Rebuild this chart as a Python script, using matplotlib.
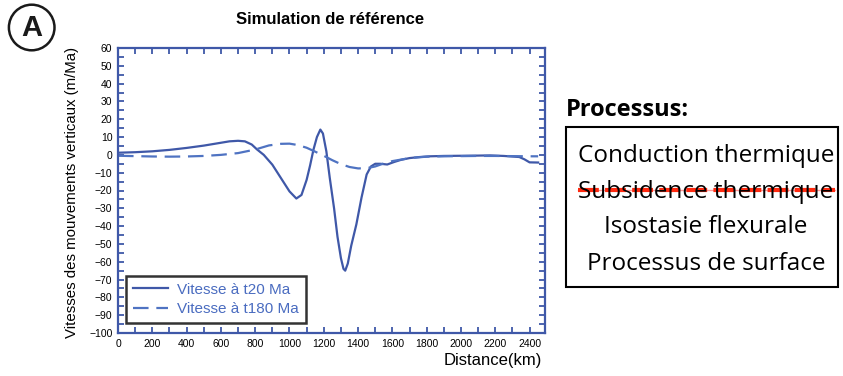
import matplotlib
matplotlib.use('Agg')
import matplotlib.pyplot as plt
from matplotlib.patches import Circle, Rectangle
from matplotlib.lines import Line2D
from matplotlib.ticker import MultipleLocator

plt.rcParams['font.family'] = ['Liberation Sans', 'DejaVu Sans']

# vitesse a t20 Ma (distance km, m/Ma)
dist_t20 = [0, 100, 200, 300, 400, 500, 600, 650, 700, 740, 780, 810, 850, 900, 950,
            1000, 1040, 1070, 1100, 1120, 1140, 1160, 1180, 1195, 1215, 1235, 1260,
            1280, 1300, 1315, 1325, 1340, 1360, 1390, 1420, 1450, 1475, 1500, 1530,
            1570, 1610, 1650, 1700, 1760, 1820, 1900, 2000, 2100, 2170, 2250, 2340,
            2370, 2400, 2450]
vit_t20 = [1.2, 1.5, 2.0, 2.8, 3.9, 5.2, 6.8, 7.6, 7.9, 7.6, 5.8, 3.1, 0, -5.5, -13,
           -20.5, -24.5, -22.5, -14, -6, 3, 10, 14.2, 12, 2, -13, -30,
           -46, -58, -64, -65, -61, -51, -39, -24, -11, -6.5, -5, -5,
           -5.4, -4, -2.8, -1.8, -1.2, -0.8, -0.6, -0.5, -0.4, -0.3, -0.6, -1.2,
           -2.5, -4.2, -4.3]

# vitesse a t180 Ma
dist_t180 = [0, 100, 200, 300, 400, 500, 600, 700, 750, 800, 880, 950, 1000, 1050, 1100,
             1150, 1200, 1250, 1300, 1350, 1400, 1450, 1500, 1550, 1600, 1700, 1800,
             1900, 2000, 2100, 2200, 2300, 2400, 2450]
vit_t180 = [-0.5, -0.7, -0.9, -1.0, -0.9, -0.6, 0, 1.0, 2.0, 3.0, 5.3, 6.2, 6.3, 5.5, 4,
            1.8, -0.5, -3, -5.2, -6.8, -7.6, -7.5, -6.5, -4.8, -3.5, -1.8, -1.0,
            -0.8, -0.7, -0.6, -0.6, -0.7, -0.8, -0.8]

processus = ['Conduction thermique', 'Subsidence thermique',
             'Isostasie flexurale', 'Processus de surface']

W, H = 843, 376
fig = plt.figure(figsize=(W / 100, H / 100), dpi=100)


def fx(x):
    return x / W


def fy(y):
    return 1 - y / H


blue = '#3f58a8'
blue2 = '#4f73c2'
ax = fig.add_axes([fx(118), fy(333), fx(545) - fx(118), fy(48) - fy(333)])
ax.plot(dist_t20, vit_t20, color=blue, lw=1.6, label='Vitesse à t20 Ma')
ax.plot(dist_t180, vit_t180, color=blue2, lw=1.6, ls=(0, (7, 3.5)),
        label='Vitesse à t180 Ma')
ax.set_xlim(0, 2490)
ax.set_ylim(-100, 60)
ax.xaxis.set_major_locator(MultipleLocator(200))
ax.xaxis.set_minor_locator(MultipleLocator(100))
ax.yaxis.set_major_locator(MultipleLocator(10))
ax.yaxis.set_minor_locator(MultipleLocator(5))
ax.tick_params(which='both', direction='in', top=True, right=True, length=4,
               width=1.3, color=blue, labelsize=7.5, pad=4)
for s in ax.spines.values():
    s.set_color(blue)
    s.set_linewidth(1.6)

leg = ax.legend(loc='lower left', bbox_to_anchor=(0.012, 0.025), fontsize=11,
                frameon=True, fancybox=False, handlelength=2.3, borderpad=0.45,
                labelspacing=0.35, handletextpad=0.6, borderaxespad=0.2)
leg.get_frame().set_edgecolor('black')
leg.get_frame().set_linewidth(1.8)
for t in leg.get_texts():
    t.set_color('#4a6cc0')

fig.text(fx(330), fy(20), 'Simulation de référence', ha='center', va='center',
         fontsize=12, fontweight='bold')
fig.text(fx(72), fy(192), 'Vitesses des mouvements verticaux (m/Ma)', rotation=90,
         ha='center', va='center', fontsize=10.8)
fig.text(fx(542), fy(360), 'Distance(km)', ha='right', va='center', fontsize=12)

# etiquette A
fig.add_artist(Circle((0.317, (H - 27.5) / 100), 0.228, transform=fig.dpi_scale_trans,
                      fill=False, lw=1.8, color='#1a1a1a'))
fig.text(fx(31.7), fy(28), 'A', ha='center', va='center', fontsize=21,
         fontweight='bold', color='#1a1a1a')

# encadre processus
pf = ['Open Sans', 'DejaVu Sans']
fig.text(fx(566), fy(116.5), 'Processus:', ha='left', va='baseline', fontsize=17,
         fontweight='bold', family=pf)
fig.add_artist(Rectangle((fx(566), fy(287)), fx(838) - fx(566), fy(127) - fy(287),
                         transform=fig.transFigure, fill=False, lw=1.5, color='black'))
baselines = [161.5, 197.5, 233.5, 270]
for txt, yy in zip(processus, baselines):
    fig.text(fx(706), fy(yy), txt, ha='center', va='baseline', fontsize=17.5, family=pf)

fig.add_artist(Line2D([fx(578), fx(835)], [fy(189.5), fy(189.5)], transform=fig.transFigure,
                      color='#ff9999', lw=1.0))
fig.add_artist(Line2D([fx(578), fx(835)], [fy(189.5), fy(189.5)], transform=fig.transFigure,
                      color='#ff2a10', lw=3, ls=(0, (5, 1.5))))

fig.savefig('out.png', dpi=100)
